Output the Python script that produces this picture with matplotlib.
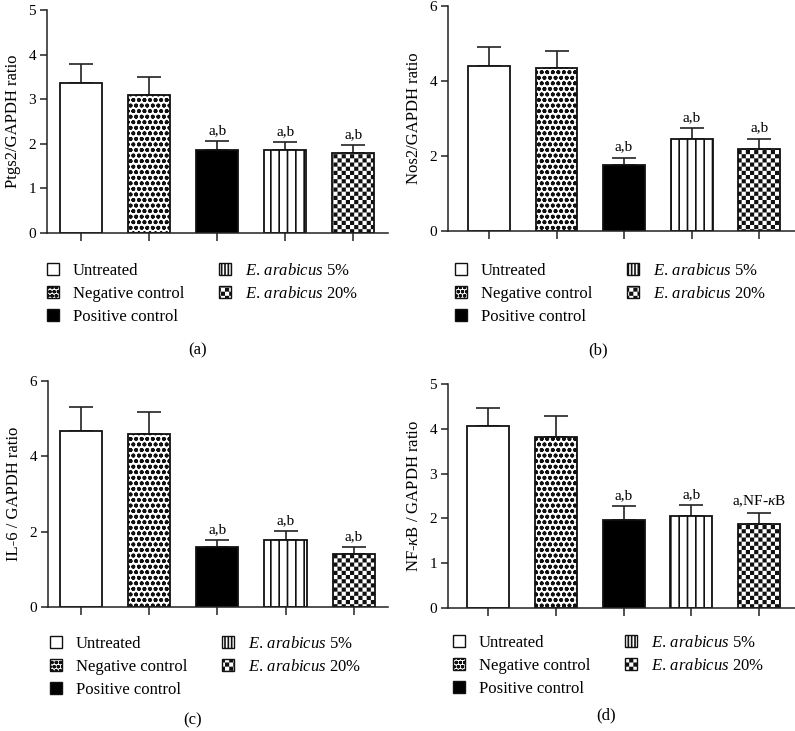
import numpy as np
import matplotlib
matplotlib.use("Agg")
import matplotlib.pyplot as plt
import matplotlib.hatch as mhatch
from matplotlib.path import Path
from matplotlib.patches import Patch

# ---------------- data ----------------
groups = ["Untreated", "Negative control", "Positive control",
          "E. arabicus 5%", "E. arabicus 20%"]

ptgs2_mean = [3.37, 3.10, 1.87, 1.87, 1.79]
ptgs2_err = [0.42, 0.39, 0.19, 0.17, 0.18]
ptgs2_note = ["", "", "a,b", "a,b", "a,b"]

nos2_mean = [4.41, 4.36, 1.77, 2.45, 2.19]
nos2_err = [0.51, 0.45, 0.19, 0.30, 0.27]
nos2_note = ["", "", "a,b", "a,b", "a,b"]

il6_mean = [4.66, 4.59, 1.58, 1.77, 1.42]
il6_err = [0.65, 0.59, 0.19, 0.24, 0.17]
il6_note = ["", "", "a,b", "a,b", "a,b"]

nfkb_mean = [4.06, 3.82, 1.97, 2.06, 1.87]
nfkb_err = [0.41, 0.47, 0.31, 0.23, 0.24]
nfkb_note = ["", "", "a,b", "a,b", r"a,NF-$\kappa$B"]

ylabels = ["Ptgs2/GAPDH ratio", "Nos2/GAPDH ratio", "IL-6 / GAPDH ratio",
           r"NF-$\kappa$B / GAPDH ratio"]
yticks_list = [[0, 1, 2, 3, 4, 5], [0, 2, 4, 6], [0, 2, 4, 6], [0, 1, 2, 3, 4, 5]]
captions = ["(a)", "(b)", "(c)", "(d)"]
legend_labels = ["Untreated", "Negative control", "Positive control",
                 r"$\mathit{E.\,arabicus}$ 5%", r"$\mathit{E.\,arabicus}$ 20%"]

# ---------------- style ----------------
plt.rcParams["font.family"] = ["Liberation Serif", "DejaVu Serif"]
plt.rcParams["mathtext.fontset"] = "custom"
plt.rcParams["mathtext.rm"] = "Liberation Serif"
plt.rcParams["mathtext.it"] = "Liberation Serif:italic"
plt.rcParams["hatch.linewidth"] = 1.2

HLW = plt.rcParams["hatch.linewidth"]


class CheckerHatch(mhatch.HatchPatternBase):
    """checkerboard of filled squares, used for the '*' hatch character"""
    def __init__(self, hatch, density):
        n = hatch.count('*') * density
        if n % 2:
            n += 1
        self.n = n
        self.num_vertices = (n * n // 2) * 5 if n else 0

    def set_vertices_and_codes(self, vertices, codes):
        n = self.n
        d = 1.0 / n
        inset = HLW / 144.0
        k = 0
        for r in range(n):
            for c in range(n):
                if (r + c) % 2 == 0:
                    x0, y0 = c * d + inset, r * d + inset
                    x1, y1 = (c + 1) * d - inset, (r + 1) * d - inset
                    vertices[k:k + 5] = [(x0, y0), (x1, y0), (x1, y1), (x0, y1), (x0, y0)]
                    codes[k:k + 5] = [Path.MOVETO, Path.LINETO, Path.LINETO,
                                      Path.LINETO, Path.CLOSEPOLY]
                    k += 5


mhatch._hatch_types[mhatch._hatch_types.index(mhatch.Stars)] = CheckerHatch

faces = ["white", "white", "black", "white", "white"]
hatches = [None, "ooo", None, "||", "****"]
legend_hatches = [None, "oooo", None, "|||||", "****"]

W, H = 795, 731
fig = plt.figure(figsize=(W / 100, H / 100), dpi=100)


def rect(l, r, top, bottom):
    return [l / W, 1 - bottom / H, (r - l) / W, (bottom - top) / H]


panels = [
    dict(mean=ptgs2_mean, err=ptgs2_err, note=ptgs2_note, box=rect(47, 388, 10, 233),
         xlim=(-0.5, 4.51), ylim=5),
    dict(mean=nos2_mean, err=nos2_err, note=nos2_note, box=rect(448, 795, 6, 231),
         xlim=(-0.607, 4.53), ylim=6),
    dict(mean=il6_mean, err=il6_err, note=il6_note, box=rect(48, 388, 381, 607),
         xlim=(-0.48, 4.5), ylim=6),
    dict(mean=nfkb_mean, err=nfkb_err, note=nfkb_note, box=rect(448, 795, 384, 608),
         xlim=(-0.59, 4.53), ylim=5),
]

legend_pos = [(47, 263), (455, 263), (50, 636), (453, 635)]
caption_pos = [(198, 350), (598, 350), (193, 720), (606, 715)]

x = np.arange(len(groups))
for i, p in enumerate(panels):
    ax = fig.add_axes(p["box"])
    ax.errorbar(x, p["mean"], yerr=[np.zeros(len(x)), p["err"]], fmt="none",
                ecolor="#222222", elinewidth=1.2, capsize=8.5, capthick=1.2, zorder=1)
    for j in range(len(x)):
        ax.bar(x[j], p["mean"][j], width=0.62, color=faces[j], edgecolor="#111111",
               linewidth=1.3, hatch=hatches[j], zorder=2)
        if p["note"][j]:
            ax.annotate(p["note"][j], (x[j], p["mean"][j] + p["err"][j]),
                        xytext=(0, 3), textcoords="offset points",
                        ha="center", va="bottom", fontsize=11)
    ax.set_xlim(*p["xlim"])
    ax.set_ylim(0, p["ylim"])
    ax.set_yticks(yticks_list[i])
    ax.set_xticks(x)
    ax.set_xticklabels([])
    for s in ["top", "right"]:
        ax.spines[s].set_visible(False)
    for s in ["left", "bottom"]:
        ax.spines[s].set_linewidth(1.1)
        ax.spines[s].set_color("#222222")
    ax.tick_params(axis="y", length=5, width=1.1, labelsize=11, pad=3, color="#222222")
    ax.tick_params(axis="x", length=6, width=1.1, color="#222222")
    ax.set_ylabel(ylabels[i], fontsize=12, labelpad=5)
    ax.patch.set_alpha(0)

    handles = [Patch(facecolor=faces[j], edgecolor="#111111", hatch=legend_hatches[j],
                     linewidth=1.0, label=lab) for j, lab in enumerate(legend_labels)]
    lx, ly = legend_pos[i]
    fig.legend(handles=handles, loc="upper left", bbox_to_anchor=(lx / W, 1 - ly / H),
               ncol=2, frameon=False, fontsize=12, handlelength=0.7, handleheight=0.7,
               handletextpad=0.85, columnspacing=2.1, labelspacing=0.42,
               borderpad=0, borderaxespad=0)
    cx, cy = caption_pos[i]
    fig.text(cx / W, 1 - cy / H, captions[i], ha="center", va="center", fontsize=12)

fig.savefig("out.png", dpi=100)
